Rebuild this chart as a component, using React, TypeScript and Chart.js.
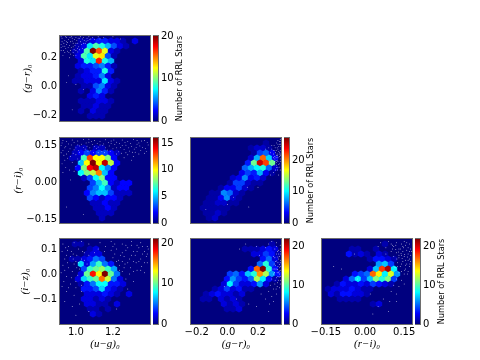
import React, { useEffect, useRef } from "react";
import { Chart, registerables } from "chart.js";
Chart.register(...registerables);

// Hex-bin counts: each entry is [latticeRow, firstColumn, ...counts]
const cellsUgGr = [
  [1,3,1,1,2,3,3,2,2,1,0,2],[2,3,1,2,7,9,8,6,4,2,1],[3,2,1,2,9,21,16,12,2,1],[4,3,2,9,7,12,13,4,1],[5,3,2,8,7,17,8,6],
  [6,3,2,3,3,4,5,3,1],[7,3,1,2,3,3,8,3],[8,3,1,2,2,3,5,2],[9,2,1,1,2,2,2,7,2,1],[10,4,1,1,4,5,2,1],[11,3,1,0,2,5,3,1],
  [12,5,2,3,2],[13,3,1,1,1,2,2,1],[14,4,1,1,2,1,1],[15,3,1,0,2,1,1],[16,5,1,1,1],
];
const cellsUgRi = [
  [2,3,1,1,0,1,1],[3,2,1,2,3,2,3,3,2,1],[4,2,1,1,7,13,10,10,8,2],[5,3,5,10,16,10,15,9,2],[6,3,2,8,14,15,6,4,2],[7,3,6,8,9,12,5,2],
  [8,4,1,3,6,8,2,2],[9,5,3,5,7,2,1,2,2],[10,5,3,4,6,4,1,2,2],[11,4,2,4,5,5,3,1,1,1],[12,5,3,2,1,2,2,1],[13,5,1,1,2,1,1],
  [14,6,1,1,2,1],[15,6,1,1,1],[16,7,1],
];
const cellsUgIz = [
  [1,2,1,1],[2,5,1,2],[3,4,1,2,2],[4,2,1,1,2,3,5,4],[5,3,7,2,6,9,5,3],[6,4,4,9,10,11,9,6],[7,3,2,10,18,13,21,10,5],
  [8,3,2,7,9,10,16,12,5,2],[9,3,1,3,5,8,8,3,3,2],[10,4,3,3,4,7,3,2,1],[11,4,2,2,2,3,2,1,0,2],[12,4,2,2,1,2,1],
  [13,4,2,2,1,1,0,2],[14,5,1,1,0,1],[15,5,2,1],
];
const cellsGrRi = [
  [1,12,1],[2,10,1,2,2,1],[3,10,1,5,6,3],[4,10,2,8,21,9,3],[5,9,4,13,25,22,13],[6,9,6,8,10,11,6,2],[7,8,3,5,4,8,3,1],
  [8,7,2,3,7,3,4,2],[9,6,1,5,5,2,1,1],[10,5,1,3,3,5,2,1],[11,3,1,1,7,6,2,1],[12,3,1,1,3,7,2,1],[13,2,1,1,2,2,1,1],
  [14,2,1,1,1,1,1],[15,2,1,1,2,1],[16,3,1,2],
];
const cellsGrIz = [
  [1,13,1],[2,9,1,1,1,2,3,2],[3,10,2,2,4,3,1],[4,12,3,5,2],[5,11,5,9,4,1],[6,10,3,17,22,9,3],[7,6,4,5,3,7,9,16,12,6,3],
  [8,6,3,6,4,3,5,12,8,3,1],[9,5,2,8,4,2,2,3,6,2],[10,4,1,2,4,2,3,1,1],[11,2,1,2,3,2,2,1,2],[12,2,1,1,0,2,1,2,1],
  [13,5,2,1,2,1],[14,6,1,1,2],
];
const cellsRiIz = [
  [1,10,1],[2,5,1,1,0,0,1],[3,4,3,1,2,1,0,2,1],[4,8,1,3,3,2,1],[5,9,6,7,4],[6,8,2,7,18,21,8],[7,5,3,4,5,17,14,8,13,6],
  [8,4,2,5,8,4,7,11,9,11,4],[9,2,1,3,2,2,3,2,4,3,2,1],[10,1,1,2,2,2,3,2,1,1],[11,1,2,1,3,3,2,2,1],[12,3,1,1,1,1],[13,8,1,2],
];

// Individual stars plotted over the bins
const dotsUgGr = [
  [.925,.335],[.94,.32],[.935,.3],[.95,.34],[.96,.325],[.955,.305],[.965,.285],[.93,.28],[.945,.265],[.97,.31],[.98,.335],[.985,.3],[.975,.27],[.99,.255],[1,.34],[1.005,.32],[.995,.285],[1.01,.3],[1.02,.335],[1.025,.31],[1.015,.275],[1.03,.29],[1.04,.34],[1.045,.32],[1.05,.3],[1.06,.335],[1.07,.345],[1.08,.33],[1.09,.34],[1.1,.325],[.92,.25],[.94,.235],[.955,.245],[.97,.225],[.985,.235],[1,.25],[1.02,.255],[1.035,.265],[.93,.215],[1,.215],[.965,.2],[1.15,.34],[1.2,.345],[1.24,.33],[.95,.03],[1,.015],[.96,.075],[1.04,-.02],[.98,-.16],[.925,.31],[.95,.29],[.98,.315],[1.0,.3],[1.035,.33],[.97,.25],
  [.92,.345],[.945,.345],[.975,.345],[1.025,.345],[1.055,.315],[1.065,.32],[.92,.29],[.932,.25],[.948,.31],[.958,.27],[.968,.34],[.992,.325],[1.012,.335],[.985,.275],[1.008,.265],[1.042,.3],[.92,.27],[.94,.28],[.962,.235],[.988,.215],[1.075,.325],[1.12,.345],[1.13,.33],[1.01,.24],
];
const dotsUgRi = [
  [.93,.17],[.95,.165],[.98,.172],[1.01,.168],[1.04,.174],[1.07,.163],[1.1,.17],[1.13,.165],[1.16,.173],[1.19,.168],[1.22,.163],[1.25,.172],[1.28,.166],[1.31,.174],[1.34,.16],[1.37,.17],[.92,.15],[.945,.145],[.975,.152],[1,.14],[1.03,.155],[1.06,.147],[1.09,.153],[1.12,.143],[1.15,.156],[1.18,.148],[1.21,.154],[1.24,.141],[1.27,.151],[1.3,.146],[1.33,.155],[1.36,.142],[1.39,.152],[.93,.13],[.96,.125],[.99,.132],[1.02,.122],[1.05,.135],[1.08,.128],[1.11,.137],[1.14,.126],[1.17,.131],[1.2,.136],[1.23,.124],[1.26,.133],[1.29,.127],[1.32,.122],[1.35,.13],[.935,.11],[.97,.105],[1,.112],[1.03,.108],[1.28,.112],[1.31,.105],[.94,.09],[.98,.08],[1.01,.095],[.945,.06],[1,.065],[.93,.04],[1.03,.03],[.97,.01],[.95,-.1],[1.04,-.13],[1.3,.09],[1.22,.115],[1.12,.12],[1.38,.125],[1.07,.175],[1.33,.17],
  [.925,.16],[.96,.156],[.99,.162],[1.02,.148],[1.055,.16],[1.085,.166],[1.115,.158],[1.145,.15],[1.175,.162],[1.205,.172],[1.235,.157],[1.265,.162],[1.295,.158],[1.325,.141],[1.355,.168],[1.385,.162],[.94,.14],[.968,.136],[1.01,.152],[1.04,.142],[1.075,.14],[1.1,.145],[1.13,.152],[1.16,.14],[1.19,.158],[1.22,.14],[1.25,.15],[1.285,.14],[1.315,.135],[1.345,.148],[1.375,.138],[.92,.12],[.95,.115],[.985,.118],[1.015,.13],[1.065,.125],[1.095,.12],[1.155,.12],[1.185,.125],[1.245,.118],[1.27,.12],[1.305,.122],[1.34,.115],[1.37,.118],[.955,.098],[1.02,.085],[1.26,.1],[.925,.075],[.965,.05],[.99,.045],
];
const dotsUgIz = [
  [.93,.12],[.96,.11],[.99,.125],[1.03,.13],[1.07,.12],[1.13,.125],[1.19,.13],[1.25,.12],[1.3,.13],[1.35,.125],[1.385,.11],[.925,.09],[.955,.095],[.985,.08],[1.015,.1],[1.045,.085],[1.19,.095],[1.22,.1],[1.25,.085],[1.28,.105],[1.31,.09],[1.34,.105],[1.37,.09],[1.39,.1],[.94,.06],[.97,.07],[1,.05],[1.03,.06],[1.2,.065],[1.23,.055],[1.26,.07],[1.29,.06],[1.32,.075],[1.35,.06],[1.38,.07],[.93,.035],[.96,.025],[.99,.04],[1.02,.02],[1.235,.035],[1.265,.04],[1.295,.025],[1.325,.045],[1.355,.03],[1.385,.045],[.92,.005],[.95,-.01],[.98,.01],[1.01,-.005],[1.25,.01],[1.29,.0],[1.33,.015],[1.37,.005],[.935,-.03],[.97,-.04],[1.0,-.03],[1.03,-.045],[1.27,-.02],[1.31,-.03],[.95,-.07],[.99,-.085],[1.03,-.07],[1.28,-.06],[.94,-.11],[.98,-.13],[1.02,-.12],[1.07,-.15],[1.0,-.165],[1.22,-.14],[1.12,.1],[1.16,.11],[1.06,.04],[1.36,.11],[1.3,.115],[1.21,.12],
  [.945,.105],[.975,.09],[1.005,.075],[1.035,.09],[.95,.075],[.985,.06],[1.015,.045],[1.045,.055],[1.21,.08],[1.24,.075],[1.27,.095],[1.3,.075],[1.33,.09],[1.36,.08],[1.385,.08],[1.22,.05],[1.25,.05],[1.28,.045],[1.31,.05],[1.34,.05],[1.37,.045],[1.26,.025],[1.31,.01],[1.35,.015],[1.235,.015],[.94,.015],[.975,-.015],[1.005,.025],[.955,.045],[.925,-.05],[.96,-.055],[1.0,-.055],[1.07,.075],[1.1,.085],[1.155,.09],[1.2,.11],[1.27,.115],[1.33,.115],
];
const dotsGrRi = [
  [.33,.17],[.345,.175],[.32,.16],[.34,.155],[.305,.15],[.325,.14],[.345,.145],[.29,.135],[.31,.13],[.335,.125],[.345,.115],[.3,.115],[.32,.11],[.33,.1],[.345,.095],[.31,.095],[.32,.08],[.34,.075],[.305,.07],[.33,.06],[.345,.05],[.315,.05],[.335,.03],[.28,.12],[.27,.14],[.25,.135],[.3,.04],[.28,.03],[.29,.15],[.2,-.02],[.13,-.02],[.04,-.06],[.0,-.09],[.33,.135],[.345,.13],[.315,.12],[.34,.105],[.325,.09],[.31,.105],[.345,.165],[.33,.155],[.3,.13],[.345,.085],[.32,.07],[.325,.115],[.14,-.1],[-.14,-.11],
  [.338,.115],[.328,.108],[.318,.1],[.342,.122],[.335,.145],[.322,.13],[.312,.14],[.34,.165],[.348,.155],[.318,.088],[.33,.085],[.342,.062],[.322,.06],[.31,.085],[.348,.108],[.3,.1],[.335,.072],[.328,.05],
];
const dotsGrIz = [
  [.29,.13],[.32,.125],[.345,.115],[.27,.12],[.25,.105],[.31,.1],[.335,.095],[.345,.08],[.32,.08],[.3,.07],[.335,.06],[.345,.045],[.315,.05],[.33,.03],[.345,.015],[.31,.02],[.325,.005],[.345,-.01],[.3,.0],[.32,-.015],[.335,-.025],[.345,-.04],[.29,-.02],[.31,-.04],[.325,-.05],[.28,-.045],[.3,-.06],[.32,-.08],[.27,-.07],[.29,-.09],[.25,-.1],[.275,-.12],[.3,-.11],[.27,-.15],[.12,.12],[.08,.1],[.19,.11],[.21,.075],[-.02,-.05],[.06,-.1],[.14,-.12],[.345,.03],[.33,.045],[.34,.0],[.315,.035],[.34,.07],[.33,-.01],[.31,.065],[.345,.1],[.32,.11],[.335,.08],[.22,-.08],[.19,-.13],
  [.34,.038],[.328,.018],[.338,.012],[.348,.055],[.322,.052],[.33,.068],[.318,.02],[.308,.005],[.338,-.012],[.348,-.025],[.328,-.035],[.312,-.025],[.34,-.055],[.318,-.06],[.348,.09],[.328,.09],[.305,.04],[.298,.02],[.342,.025],[.335,.005],
];
const dotsRiIz = [
  [.06,.125],[.09,.13],[.12,.125],[.15,.13],[.17,.12],[.05,.11],[.08,.105],[.11,.11],[.135,.1],[.155,.115],[.175,.1],[.1,.09],[.12,.085],[.145,.09],[.165,.08],[.178,.09],[.11,.07],[.13,.065],[.15,.07],[.17,.06],[.125,.045],[.145,.05],[.16,.04],[.175,.05],[.115,.025],[.135,.03],[.155,.02],[.17,.03],[.13,.005],[.15,.0],[.165,.01],[.12,-.02],[.14,-.025],[.11,-.045],[.13,-.05],[.15,-.04],[.1,-.07],[.12,-.08],[.07,-.1],[.095,-.11],[.12,-.11],[.05,-.13],[.03,-.16],[.09,-.15],[-.04,.08],[-.09,.02],[-.12,.03],[-.03,-.02],[.02,-.08],[.165,.105],[.14,.075],[.16,.095],[.13,.1],[.175,.075],[.155,.055],[.105,.115],[.08,.08],[.14,.12],[.1,.12],
  [.128,.088],[.138,.082],[.152,.078],[.17,.09],[.13,.075],[.118,.098],[.148,.105],[.162,.068],[.142,.062],[.122,.06],[.165,.055],[.14,.04],[.155,.035],[.125,.03],[.172,.04],[.145,.11],[.16,.125],[.118,.115],[.105,.1],[.152,.015],[.14,.01],[.162,.0],
];

const rangeUg = [0.914, 1.4];
const rangeGr = [-0.237, 0.35];
const rangeRi = [-0.165, 0.18];
const rangeIz = [-0.2, 0.14];
const ticksUg = [1.0, 1.2];
const ticksGr = [-0.2, 0.0, 0.2];
const ticksRi = [-0.15, 0.0, 0.15];
const ticksIz = [-0.1, 0.0, 0.1];
const xLabelUg = "(u−g)₀";
const xLabelGr = "(g−r)₀";
const xLabelRi = "(r−i)₀";
const yLabelIz = "(i−z)₀";
const colorbarTitle = "Number of RRL Stars";

const SANS = "'DejaVu Sans'";
const sprites = new Map<string, HTMLCanvasElement>();
const PAD = 12;

function jet(t: number) {
  const v = Math.max(0, Math.min(1, t));
  const c = (a: number) => Math.round(255 * Math.max(0, Math.min(1, a)));
  const r = c(Math.min(4 * v - 1.5, -4 * v + 4.5));
  const g = c(Math.min(4 * v - 0.5, -4 * v + 3.5));
  const b = c(Math.min(4 * v + 0.5, -4 * v + 2.5));
  return `rgb(${r},${g},${b})`;
}

function hexSprite(color: string) {
  if (sprites.has(color)) return sprites.get(color)!;
  const s = document.createElement("canvas");
  s.width = 8;
  s.height = 8;
  const g = s.getContext("2d")!;
  const hw = 3.2, hh = 3.5;
  g.fillStyle = color;
  g.beginPath();
  g.moveTo(4, 4 - hh);
  g.lineTo(4 + hw, 4 - hh / 2);
  g.lineTo(4 + hw, 4 + hh / 2);
  g.lineTo(4, 4 + hh);
  g.lineTo(4 - hw, 4 + hh / 2);
  g.lineTo(4 - hw, 4 - hh / 2);
  g.closePath();
  g.fill();
  sprites.set(color, s);
  return s;
}

const panelFrame = {
  id: "panelFrame",
  beforeDatasetsDraw(chart: any, _a: any, o: any) {
    if (!o.fill) return;
    const { left, top, width, height } = chart.chartArea;
    chart.ctx.save();
    chart.ctx.fillStyle = o.fill;
    chart.ctx.fillRect(left, top, width, height);
    chart.ctx.restore();
  },
  afterDatasetsDraw(chart: any, _a: any, o: any) {
    const { left, top, width, height } = chart.chartArea;
    const ctx = chart.ctx;
    ctx.save();
    ctx.strokeStyle = "#6e6e6e";
    ctx.lineWidth = 1;
    ctx.strokeRect(Math.round(left) - 0.5, Math.round(top) - 0.5, Math.round(width) + 1, Math.round(height) + 1);
    if (o.title) {
      ctx.translate(o.titleX, (top + top + height) / 2);
      ctx.rotate(-Math.PI / 2);
      ctx.font = `8.2px ${SANS}`;
      ctx.fillStyle = "#000";
      ctx.textAlign = "center";
      ctx.textBaseline = "middle";
      ctx.fillText(o.title, 0, 0);
    }
    ctx.restore();
  },
};

const fmt = (d: number) => (v: any) => Number(v).toFixed(d).replace("-", "−");

function usePanel(ref: any, p: any) {
  useEffect(() => {
    const hex: any[] = [];
    const [x0, x1] = p.xr;
    const [y0, y1] = p.yr;
    for (const [r, start, ...vals] of p.cells) {
      vals.forEach((c: number, i: number) => {
        if (!c) return;
        hex.push({
          x: x0 + (start + i + (r % 2 ? 0.5 : 0)) * (x1 - x0) / 15,
          y: y1 - r * (y1 - y0) / 17,
          c,
        });
      });
    }
    const chart = new Chart(ref.current, {
      type: "scatter",
      data: {
        datasets: [
          {
            data: hex,
            pointStyle: hex.map((h) => hexSprite(jet(h.c / p.max))) as any,
            pointRadius: 3,
            order: 2,
          },
          {
            data: p.dots.map(([x, y]: number[]) => ({ x, y })),
            pointRadius: 0.42,
            borderWidth: 0,
            pointBorderWidth: 0,
            backgroundColor: "#ffffff",
            order: 1,
          },
        ],
      },
      plugins: [panelFrame],
      options: {
        animation: false,
        responsive: false,
        layout: { padding: { top: PAD, right: 14, left: 0, bottom: 0 } },
        plugins: {
          legend: { display: false },
          tooltip: { enabled: false },
          panelFrame: { fill: "#00007f" },
        } as any,
        scales: {
          x: {
            type: "linear",
            min: x0,
            max: x1,
            grid: { display: false, drawTicks: false },
            border: { display: false },
            afterBuildTicks: (s: any) => { s.ticks = (p.xt || []).map((value: number) => ({ value })); },
            afterFit: (s: any) => { s.height = 27; },
            ticks: {
              display: !!p.xt,
              autoSkip: false,
              maxRotation: 0,
              padding: 2,
              color: "#000",
              font: { family: "DejaVu Sans", size: 10 },
              callback: fmt(p.xd ?? 1),
            },
            title: {
              display: !!p.xl,
              text: p.xl,
              color: "#000",
              padding: { top: 0, bottom: 0 },
              font: { family: "Liberation Serif", size: 11, style: "italic" },
            },
          },
          y: {
            type: "linear",
            min: y0,
            max: y1,
            grid: { display: false, drawTicks: false },
            border: { display: false },
            afterBuildTicks: (s: any) => { s.ticks = (p.yt || []).map((value: number) => ({ value })); },
            afterFit: (s: any) => { s.width = 60; },
            ticks: {
              display: !!p.yt,
              autoSkip: false,
              padding: 3,
              color: "#000",
              font: { family: "DejaVu Sans", size: 10 },
              callback: fmt(p.yd ?? 1),
            },
            title: {
              display: !!p.yl,
              text: p.yl,
              color: "#000",
              padding: { top: p.ylPad ?? 0, bottom: 0 },
              font: { family: "Liberation Serif", size: 11, style: "italic" },
            },
          },
        },
      },
    } as any);
    return () => chart.destroy();
  }, []);
}

function useBar(ref: any, b: any) {
  useEffect(() => {
    const chart = new Chart(ref.current, {
      type: "bar",
      data: {
        labels: [""],
        datasets: [
          {
            data: [[0, b.max]],
            barPercentage: 1,
            categoryPercentage: 1,
            backgroundColor: (c: any) => {
              const a = c.chart.chartArea;
              if (!a) return "#00007f";
              const g = c.chart.ctx.createLinearGradient(0, a.bottom, 0, a.top);
              for (let i = 0; i <= 32; i++) g.addColorStop(i / 32, jet(i / 32));
              return g;
            },
          },
        ],
      },
      plugins: [panelFrame],
      options: {
        animation: false,
        responsive: false,
        layout: { padding: { top: PAD, right: 0, left: 0, bottom: PAD } },
        plugins: {
          legend: { display: false },
          tooltip: { enabled: false },
          panelFrame: { title: b.title, titleX: 27 },
        } as any,
        scales: {
          x: { display: false },
          y: {
            position: "right",
            min: 0,
            max: b.max,
            grid: { display: false, drawTicks: false },
            border: { display: false },
            afterBuildTicks: (s: any) => { s.ticks = b.ticks.map((value: number) => ({ value })); },
            afterFit: (s: any) => { s.width = 32; },
            ticks: {
              autoSkip: false,
              padding: 3,
              color: "#000",
              font: { family: "DejaVu Sans", size: 10 },
              callback: (v: any) => String(v),
            },
          },
        },
      },
    } as any);
    return () => chart.destroy();
  }, []);
}

function Panel({ left, top, ...p }: any) {
  const ref = useRef<HTMLCanvasElement>(null);
  usePanel(ref, p);
  return (
    <canvas
      ref={ref}
      width={164}
      height={124}
      style={{ position: "absolute", left: left - 60, top: top - PAD, width: 164, height: 124 }}
    />
  );
}

function Bar({ left, top, ...b }: any) {
  const ref = useRef<HTMLCanvasElement>(null);
  useBar(ref, b);
  return (
    <canvas
      ref={ref}
      width={37}
      height={109}
      style={{ position: "absolute", left, top: top - PAD, width: 37, height: 109 }}
    />
  );
}

export default function App() {
  return (
    <div style={{ position: "fixed", left: 0, top: 0, width: 480, height: 360, background: "#fff" }}>
      <Panel left={60} top={36} cells={cellsUgGr} dots={dotsUgGr} xr={rangeUg} yr={rangeGr} yt={ticksGr} yl={xLabelGr} ylPad={21} max={20} />
      <Panel left={60} top={138} cells={cellsUgRi} dots={dotsUgRi} xr={rangeUg} yr={rangeRi} yt={ticksRi} yd={2} yl={"(r−i)₀"} ylPad={12} max={16} />
      <Panel left={60} top={239} cells={cellsUgIz} dots={dotsUgIz} xr={rangeUg} yr={rangeIz} xt={ticksUg} yt={ticksIz} yl={yLabelIz} ylPad={19} xl={xLabelUg} max={21} />
      <Panel left={191} top={138} cells={cellsGrRi} dots={dotsGrRi} xr={rangeGr} yr={rangeRi} max={27} />
      <Panel left={191} top={239} cells={cellsGrIz} dots={dotsGrIz} xr={rangeGr} yr={rangeIz} xt={ticksGr} xl={xLabelGr} max={22} />
      <Panel left={322} top={239} cells={cellsRiIz} dots={dotsRiIz} xr={rangeRi} yr={rangeIz} xt={ticksRi} xd={2} xl={xLabelRi} max={22} />
      <Bar left={153} top={36} max={20} ticks={[0, 10, 20]} title={colorbarTitle} />
      <Bar left={153} top={138} max={16} ticks={[0, 5, 10, 15]} />
      <Bar left={153} top={239} max={21} ticks={[0, 10, 20]} />
      <Bar left={284} top={138} max={27} ticks={[0, 10, 20]} title={colorbarTitle} />
      <Bar left={284} top={239} max={22} ticks={[0, 10, 20]} />
      <Bar left={415} top={239} max={22} ticks={[0, 10, 20]} title={colorbarTitle} />
    </div>
  );
}
